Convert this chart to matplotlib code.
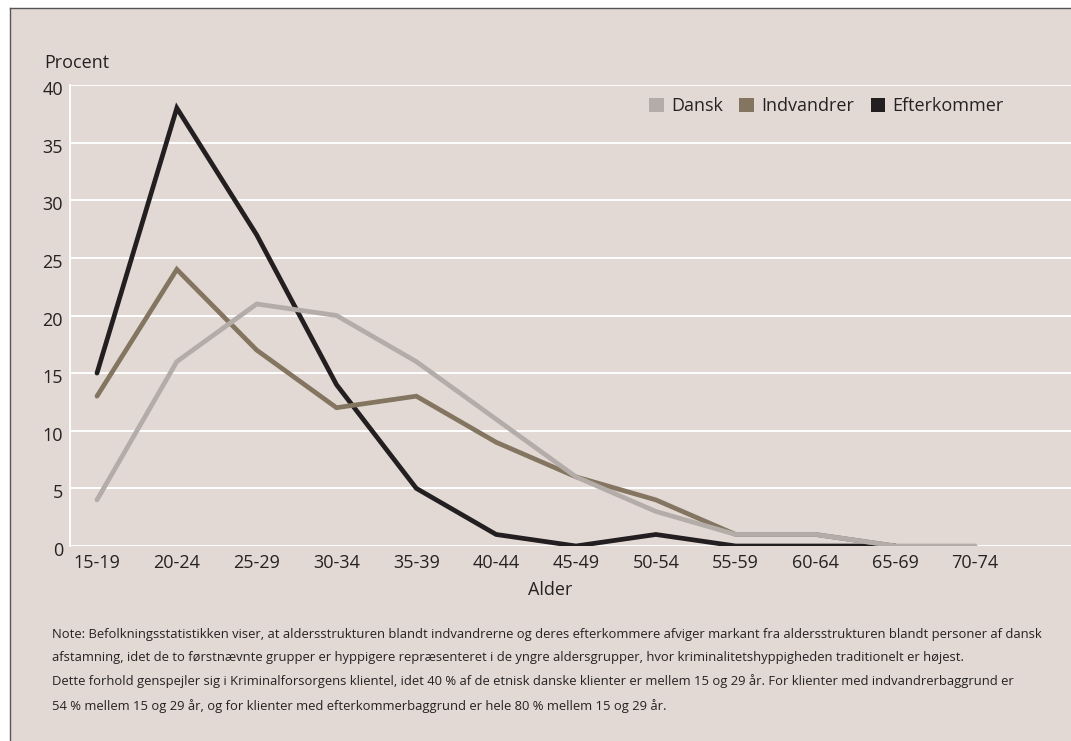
import matplotlib
matplotlib.use("Agg")
import matplotlib.pyplot as plt
import matplotlib.transforms as mtransforms
from matplotlib.patches import Patch, Rectangle
from matplotlib.lines import Line2D

categories = ["15-19", "20-24", "25-29", "30-34", "35-39", "40-44",
              "45-49", "50-54", "55-59", "60-64", "65-69", "70-74"]
dansk = [4, 16, 21, 20, 16, 11, 6, 3, 1, 1, 0, 0]
indvandrer = [13, 24, 17, 12, 13, 9, 6, 4, 1, 1, 0]
efterkommer = [15, 38, 27, 14, 5, 1, 0, 1, 0, 0, 0]
series_names = ["Dansk", "Indvandrer", "Efterkommer"]
yticks = [0, 5, 10, 15, 20, 25, 30, 35, 40]

note = ("Note: Befolkningsstatistikken viser, at aldersstrukturen blandt indvandrerne og deres efterkommere afviger markant fra aldersstrukturen blandt personer af dansk\n"
        "afstamning, idet de to førstnævnte grupper er hyppigere repræsenteret i de yngre aldersgrupper, hvor kriminalitetshyppigheden traditionelt er højest.\n"
        "Dette forhold genspejler sig i Kriminalforsorgens klientel, idet 40 % af de etnisk danske klienter er mellem 15 og 29 år. For klienter med indvandrerbaggrund er\n"
        "54 % mellem 15 og 29 år, og for klienter med efterkommerbaggrund er hele 80 % mellem 15 og 29 år.")

BG = "#e2d9d4"
C_DANSK = "#b3aca9"
C_IND = "#837560"
C_EFT = "#231f20"
TXT = "#262223"

plt.rcParams['font.family'] = ['Open Sans', 'DejaVu Sans']

W, H = 1071, 741
fig = plt.figure(figsize=(W / 100, H / 100), dpi=100)
fig.patch.set_facecolor("white")

# background panel with left/top frame
panel_left = 10 / W
panel_top = 1 - 8 / H
fig.add_artist(Rectangle((panel_left, 0), 1 - panel_left, panel_top,
                         transform=fig.transFigure, facecolor=BG,
                         edgecolor="none", zorder=-10))
fig.add_artist(Line2D([panel_left, panel_left], [0, panel_top], transform=fig.transFigure,
                      color="#555555", lw=1.0, zorder=-9))
fig.add_artist(Line2D([panel_left, 1], [panel_top, panel_top], transform=fig.transFigure,
                      color="#555555", lw=1.0, zorder=-9))

ax_left, ax_right = 70 / W, 1.0
ax_bottom, ax_top = 1 - 546 / H, 1 - 85 / H
ax = fig.add_axes([ax_left, ax_bottom, ax_right - ax_left, ax_top - ax_bottom])
ax.set_facecolor("none")
ax.set_zorder(1)

x_all = list(range(len(categories)))
LW = 3.4
ax.plot(x_all[:len(dansk)], dansk, color=C_DANSK, lw=LW, solid_capstyle="round",
        solid_joinstyle="miter", zorder=3)
ax.plot(x_all[:len(indvandrer)], indvandrer, color=C_IND, lw=LW, solid_capstyle="round",
        solid_joinstyle="miter", zorder=2)
ax.plot(x_all[:len(efterkommer)], efterkommer, color=C_EFT, lw=LW, solid_capstyle="round",
        solid_joinstyle="miter", zorder=1)

ax.set_ylim(0, 40)
ax.set_xlim(-0.338, 12.2)
ax.set_yticks(yticks)
ax.set_xticks(x_all)
ax.set_xticklabels(categories)
ax.yaxis.grid(True, color="white", lw=1.4)
ax.set_axisbelow(True)
for s in ["top", "right", "bottom"]:
    ax.spines[s].set_visible(False)
ax.spines["left"].set_color("white")
ax.spines["left"].set_linewidth(1.4)
ax.tick_params(axis="both", length=0, labelsize=13, colors=TXT)
ax.tick_params(axis="y", pad=5)
ax.tick_params(axis="x", pad=6)
shift = mtransforms.ScaledTranslation(0, -3 / 100, fig.dpi_scale_trans)
for lab in ax.get_yticklabels():
    lab.set_transform(lab.get_transform() + shift)

fig.text(44 / W, 1 - 63 / H, "Procent", fontsize=13, color=TXT, ha="left", va="center")
fig.text(550 / W, 1 - 590 / H, "Alder", fontsize=13, color=TXT, ha="center", va="center")

handles = [Patch(facecolor=c, edgecolor="none") for c in (C_DANSK, C_IND, C_EFT)]
leg = ax.legend(handles, series_names, ncol=3, loc="center right",
                bbox_to_anchor=(1013 / W, 1 - 106 / H), bbox_transform=fig.transFigure,
                frameon=False, fontsize=13, handlelength=0.83, handleheight=0.83,
                handletextpad=0.4, columnspacing=0.9, borderpad=0, labelcolor=TXT)

fig.text(52 / W, 1 - 628 / H, note, fontsize=9.4, color=TXT, ha="left", va="top",
         linespacing=1.98)

fig.savefig("out.png", dpi=100, facecolor="white")
